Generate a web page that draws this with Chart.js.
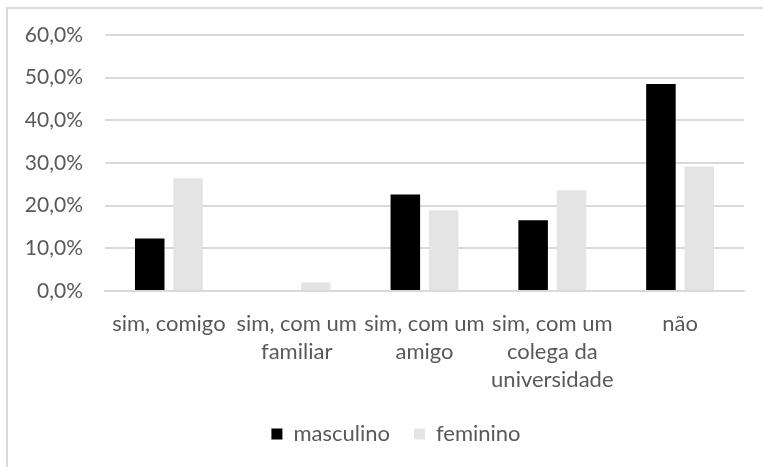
<!DOCTYPE html>
<html>
<head>
<meta charset="utf-8">
<script src="https://cdn.jsdelivr.net/npm/chart.js@4/dist/chart.umd.min.js"></script>
<style>
  body { margin: 0; background: #fff; overflow: hidden; }
  #moldura { position: absolute; left: 6px; top: 7px; width: 757px; height: 460px; border-top: 2px solid #d9d9d9; border-left: 2px solid #d9d9d9; box-sizing: border-box; }
  #wrap { position: absolute; left: 0; top: 0; width: 763px; height: 467px; }
</style>
</head>
<body>
<div id="moldura"></div>
<div id="wrap"><canvas id="grafico" width="763" height="467"></canvas></div>
<script>
const categorias = [
  ['sim, comigo'],
  ['sim, com um', 'familiar'],
  ['sim, com um', 'amigo'],
  ['sim, com um', 'colega da', 'universidade'],
  ['não']
];
const masculino = [12.3, 0, 22.6, 16.6, 48.5];
const feminino = [26.4, 2.0, 18.9, 23.6, 29.2];
const ticksY = [0, 10, 20, 30, 40, 50, 60];

const corTexto = '#595959';
const corGrade = '#d9d9d9';

// legenda um pouco mais à direita, como no original
const deslocaLegenda = {
  id: 'deslocaLegenda',
  afterLayout(chart) {
    chart.legend.left += 24;
    chart.legend.right += 24;
  }
};

new Chart(document.getElementById('grafico').getContext('2d'), {
  type: 'bar',
  data: {
    labels: categorias,
    datasets: [
      { label: 'masculino', data: masculino, backgroundColor: '#000000', categoryPercentage: 0.6, barPercentage: 0.77 },
      { label: 'feminino', data: feminino, backgroundColor: '#e4e4e4', categoryPercentage: 0.6, barPercentage: 0.77 }
    ]
  },
  options: {
    responsive: false,
    animation: false,
    layout: { padding: { top: 35, right: 19, left: 0, bottom: 12 } },
    plugins: {
      legend: {
        position: 'bottom',
        labels: {
          color: corTexto,
          font: { family: 'Lato', size: 22 },
          boxWidth: 11,
          boxHeight: 11,
          padding: 24
        }
      },
      tooltip: { enabled: false }
    },
    scales: {
      x: {
        afterFit: s => { s.height = 108; },
        grid: { display: false },
        border: { color: corGrade, width: 2 },
        ticks: {
          color: corTexto,
          font: { family: 'Lato', size: 22, lineHeight: 1.28 },
          maxRotation: 0,
          autoSkip: false,
          padding: 11
        }
      },
      y: {
        min: 0,
        max: 60,
        afterBuildTicks: s => { s.ticks = ticksY.map(v => ({ value: v })); },
        afterFit: s => { s.width = 105; },
        grid: { color: corGrade, lineWidth: 2, drawTicks: false },
        border: { display: false },
        ticks: {
          color: corTexto,
          font: { family: 'Lato', size: 21 },
          padding: 22,
          callback: v => v.toFixed(1).replace('.', ',') + '%'
        }
      }
    }
  },
  plugins: [deslocaLegenda]
});
</script>
</body>
</html>
